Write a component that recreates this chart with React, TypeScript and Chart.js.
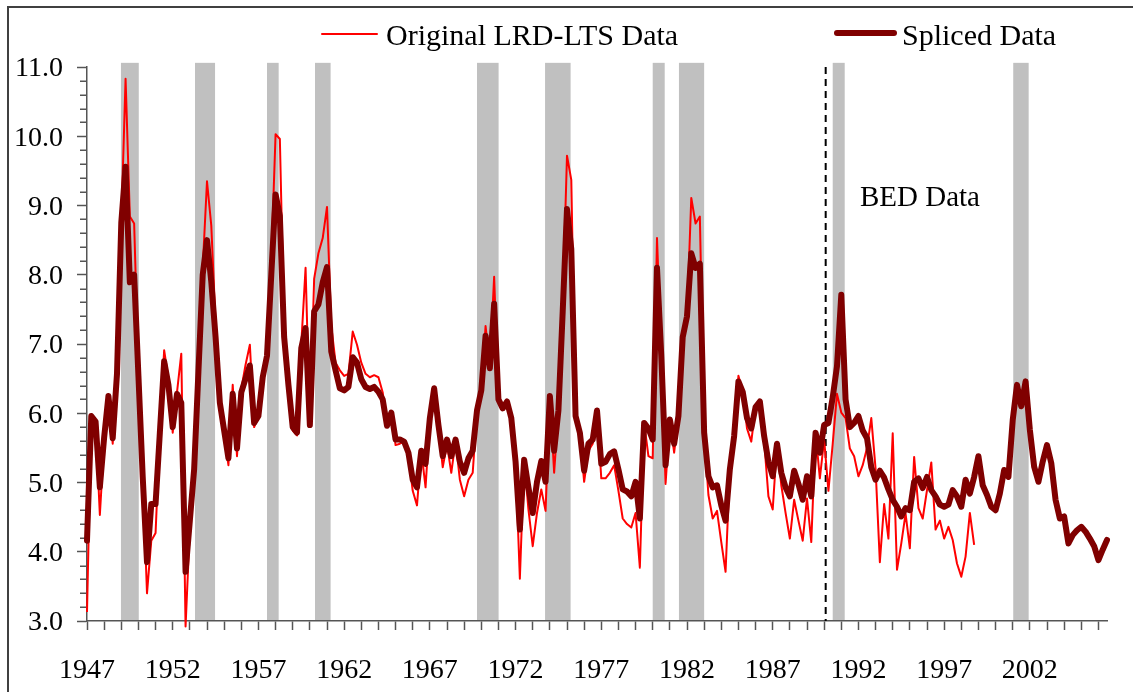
import React, { useEffect, useRef } from 'react';
import { Chart, registerables } from 'chart.js';

Chart.register(...registerables);

// First observation: 1947 Q1, quarterly observations
const START_YEAR = 1947;

// Spliced data (thick dark red), 1947Q1 - 2006Q3
const splicedData = [
  4.16, 5.96, 5.88, 4.93, 5.65, 6.25, 5.64, 6.57, 8.75, 9.56,
  7.89, 8.0, 6.54, 5.08, 3.85, 4.69, 4.69, 5.72, 6.75, 6.41,
  5.8, 6.28, 6.15, 3.71, 4.45, 5.19, 6.6, 8.0, 8.5, 7.9,
  7.1, 6.15, 5.75, 5.35, 6.28, 5.49, 6.3, 6.5, 6.69, 5.86,
  5.96, 6.52, 6.83, 8.0, 9.16, 8.85, 7.1, 6.41, 5.8, 5.72,
  6.94, 7.23, 5.83, 7.47, 7.57, 7.89, 8.11, 6.89, 6.62, 6.36,
  6.33, 6.38, 6.81, 6.73, 6.49, 6.38, 6.35, 6.38, 6.31, 6.2,
  5.82, 6.01, 5.62, 5.62, 5.59, 5.43, 5.04, 4.93, 5.46, 5.27,
  5.93, 6.36, 5.83, 5.38, 5.62, 5.38, 5.62, 5.3, 5.14, 5.35,
  5.46, 6.04, 6.33, 7.12, 6.65, 7.58, 6.2, 6.07, 6.17, 5.93,
  5.3, 4.32, 5.33, 4.93, 4.56, 5.01, 5.31, 5.01, 6.25, 5.46,
  6.04, 7.47, 8.95, 8.37, 5.96, 5.72, 5.17, 5.56, 5.62, 6.04,
  5.27, 5.3, 5.41, 5.45, 5.19, 4.9, 4.87, 4.8, 5.01, 4.48,
  5.86, 5.78, 5.62, 8.1, 6.83, 5.25, 5.91, 5.56, 5.96, 7.1,
  7.4, 8.31, 8.1, 8.16, 5.72, 5.09, 4.93, 4.96, 4.67, 4.45,
  5.19, 5.67, 6.46, 6.31, 5.93, 5.78, 6.09, 6.17, 5.67, 5.3,
  5.09, 5.56, 5.14, 4.93, 4.8, 5.17, 4.98, 4.75, 5.09, 4.8,
  5.72, 5.43, 5.83, 5.86, 6.23, 6.68, 7.71, 6.2, 5.8, 5.86,
  5.96, 5.75, 5.64, 5.22, 5.04, 5.17, 5.07, 4.9, 4.75, 4.65,
  4.51, 4.63, 4.6, 5.01, 5.06, 4.92, 5.08, 4.89, 4.8, 4.68,
  4.65, 4.68, 4.89, 4.8, 4.65, 5.04, 4.84, 5.08, 5.38, 4.96,
  4.82, 4.65, 4.6, 4.84, 5.18, 5.08, 5.9, 6.41, 6.1, 6.46,
  5.76, 5.23, 5.01, 5.3, 5.54, 5.28, 4.75, 4.48, 4.51, 4.12,
  4.24, 4.31, 4.36, 4.29, 4.19, 4.08, 3.88, 4.03, 4.17,
];

// Original LRD-LTS data (thin red), 1947Q1 - 1998Q4
const originalData = [
  3.13, 5.96, 5.88, 4.53, 5.6, 6.27, 5.56, 6.57, 8.75, 10.83,
  8.84, 8.74, 6.6, 5.1, 3.4, 4.16, 4.27, 5.72, 6.91, 6.5,
  5.72, 6.3, 6.86, 2.92, 4.35, 5.19, 6.6, 8.1, 9.35, 8.71,
  7.3, 6.2, 5.7, 5.25, 6.41, 5.38, 6.35, 6.7, 6.99, 5.8,
  5.96, 6.55, 6.85, 8.2, 10.03, 9.96, 7.2, 6.45, 5.75, 5.68,
  7.0, 8.1, 5.83, 7.94, 8.31, 8.53, 8.98, 7.26, 6.73, 6.62,
  6.54, 6.57, 7.18, 6.99, 6.73, 6.57, 6.52, 6.55, 6.52, 6.3,
  5.85, 6.01, 5.54, 5.56, 5.59, 5.4, 4.88, 4.67, 5.46, 4.93,
  5.93, 6.36, 5.8, 5.22, 5.55, 5.14, 5.6, 5.04, 4.8, 5.04,
  5.14, 6.04, 6.3, 7.26, 6.68, 7.97, 6.2, 6.07, 6.17, 5.93,
  5.3, 3.61, 5.33, 4.61, 4.08, 4.56, 4.9, 4.59, 6.25, 5.14,
  6.04, 7.6, 9.72, 9.37, 5.96, 5.72, 5.01, 5.46, 5.56, 6.04,
  5.06, 5.06, 5.14, 5.25, 4.88, 4.48, 4.4, 4.35, 4.56, 3.77,
  5.86, 5.38, 5.35, 8.53, 6.83, 4.98, 5.91, 5.43, 5.96, 7.1,
  7.4, 9.11, 8.74, 8.84, 5.72, 4.82, 4.48, 4.59, 4.14, 3.71,
  5.19, 5.67, 6.54, 6.31, 5.78, 5.59, 6.09, 6.17, 5.6, 4.8,
  4.61, 5.56, 4.96, 4.56, 4.19, 4.75, 4.45, 4.16, 4.77, 4.14,
  5.72, 5.06, 5.62, 4.88, 5.56, 6.28, 6.01, 5.93, 5.49, 5.38,
  5.09, 5.25, 5.5, 5.93, 5.2, 3.85, 4.69, 4.19, 5.71, 3.74,
  4.12, 4.55, 4.05, 5.37, 4.63, 4.48, 4.89, 5.29, 4.32, 4.45,
  4.19, 4.36, 4.17, 3.83, 3.64, 3.93, 4.56, 4.1,
];

// Recession shading (decimal years)
const recessionStarts = [1948.98, 1953.3, 1957.5, 1960.3, 1969.75, 1973.72, 1980.0, 1981.53, 1990.5, 2001.03];
const recessionEnds = [1950.02, 1954.47, 1958.18, 1961.21, 1971.01, 1975.21, 1980.7, 1983.0, 1991.2, 2001.93];

// Start of BED data (dashed line)
const bedStart = 1990.09;
const bedLabel = 'BED Data';

// Axis ticks
const xTickYears = [
  1947, 1948, 1949, 1950, 1951, 1952, 1953, 1954, 1955, 1956,
  1957, 1958, 1959, 1960, 1961, 1962, 1963, 1964, 1965, 1966,
  1967, 1968, 1969, 1970, 1971, 1972, 1973, 1974, 1975, 1976,
  1977, 1978, 1979, 1980, 1981, 1982, 1983, 1984, 1985, 1986,
  1987, 1988, 1989, 1990, 1991, 1992, 1993, 1994, 1995, 1996,
  1997, 1998, 1999, 2000, 2001, 2002, 2003, 2004, 2005, 2006,
];
const xLabelYears = [1947, 1952, 1957, 1962, 1967, 1972, 1977, 1982, 1987, 1992, 1997, 2002];
const yMajorTicks = [3, 4, 5, 6, 7, 8, 9, 10, 11];
const yMinorTicks = [
  3.2, 3.4, 3.6, 3.8, 4.2, 4.4, 4.6, 4.8, 5.2, 5.4, 5.6, 5.8,
  6.2, 6.4, 6.6, 6.8, 7.2, 7.4, 7.6, 7.8, 8.2, 8.4, 8.6, 8.8,
  9.2, 9.4, 9.6, 9.8, 10.2, 10.4, 10.6, 10.8,
];

const SERIF = "'Liberation Serif', 'Times New Roman', serif";

const toPoints = (arr: number[]) => arr.map((v, i) => ({ x: START_YEAR + i / 4, y: v }));

const decorPlugin = {
  id: 'decor',
  beforeDraw(chart: any) {
    const { ctx, scales } = chart;
    const x = scales.x;
    const y = scales.y;
    ctx.save();
    ctx.fillStyle = '#c0c0c0';
    const top = y.getPixelForValue(11.06);
    const bottom = y.getPixelForValue(3);
    recessionStarts.forEach((s, k) => {
      const x0 = x.getPixelForValue(s);
      const x1 = x.getPixelForValue(recessionEnds[k]);
      ctx.fillRect(x0, top, x1 - x0, bottom - top);
    });
    ctx.restore();
  },
  beforeDatasetsDraw(chart: any) {
    const { ctx, scales } = chart;
    const x = scales.x;
    const y = scales.y;
    ctx.save();
    // minor y ticks
    ctx.strokeStyle = '#555';
    ctx.lineWidth = 1.5;
    const left = chart.chartArea.left;
    yMinorTicks.forEach((v) => {
      const py = Math.round(y.getPixelForValue(v)) + 0.25;
      ctx.beginPath();
      ctx.moveTo(left - 7, py);
      ctx.lineTo(left, py);
      ctx.stroke();
    });
    // dashed BED line
    const dx = x.getPixelForValue(bedStart);
    ctx.strokeStyle = '#000';
    ctx.lineWidth = 2;
    ctx.setLineDash([7, 5]);
    ctx.beginPath();
    ctx.moveTo(dx, y.getPixelForValue(11));
    ctx.lineTo(dx, y.getPixelForValue(3));
    ctx.stroke();
    ctx.restore();
  },
  afterDraw(chart: any) {
    const { ctx, scales } = chart;
    const x = scales.x;
    const y = scales.y;
    const ds = chart.data.datasets;
    ctx.save();
    // BED label
    ctx.fillStyle = '#000';
    ctx.font = `29px ${SERIF}`;
    ctx.textAlign = 'left';
    ctx.textBaseline = 'alphabetic';
    ctx.fillText(bedLabel, x.getPixelForValue(1992.09), y.getPixelForValue(8.99));
    // Legend
    const items = [
      { ds: ds[0], x0: 322, x1: 377, ly: 34, tx: 386 },
      { ds: ds[1], x0: 837, x1: 894, ly: 33, tx: 902 },
    ];
    ctx.font = `30px ${SERIF}`;
    items.forEach((it) => {
      ctx.strokeStyle = it.ds.borderColor;
      ctx.lineWidth = it.ds.borderWidth;
      ctx.lineCap = 'round';
      ctx.beginPath();
      ctx.moveTo(it.x0, it.ly);
      ctx.lineTo(it.x1, it.ly);
      ctx.stroke();
      ctx.fillStyle = '#000';
      ctx.fillText(it.ds.label, it.tx, 45);
    });
    ctx.restore();
  },
};

export default function App() {
  const canvasRef = useRef<HTMLCanvasElement | null>(null);

  useEffect(() => {
    if (!canvasRef.current) return;
    const chart = new Chart(canvasRef.current, {
      type: 'line',
      data: {
        datasets: [
          {
            label: 'Original LRD-LTS Data',
            data: toPoints(originalData),
            borderColor: '#ff0000',
            borderWidth: 2,
            pointRadius: 0,
            tension: 0,
            fill: false,
            clip: false,
            order: 1,
            borderJoinStyle: 'round',
          },
          {
            label: 'Spliced Data',
            data: toPoints(splicedData),
            borderColor: '#800000',
            borderWidth: 6,
            pointRadius: 0,
            tension: 0,
            fill: false,
            clip: false,
            order: 0,
            borderJoinStyle: 'round',
            borderCapStyle: 'round',
          },
        ] as any,
      },
      options: {
        animation: false,
        responsive: false,
        devicePixelRatio: 1,
        events: [],
        layout: { padding: { left: 0, top: 67, right: 26, bottom: 0 } },
        plugins: {
          legend: { display: false },
          tooltip: { enabled: false },
          title: { display: false },
        },
        scales: {
          x: {
            type: 'linear',
            min: START_YEAR,
            max: START_YEAR + (splicedData.length - 1) / 4,
            afterBuildTicks: (scale: any) => {
              scale.ticks = xTickYears.map((v) => ({ value: v }));
            },
            afterFit: (scale: any) => {
              scale.height = 71;
            },
            grid: {
              display: true,
              drawOnChartArea: false,
              drawTicks: true,
              tickLength: 9,
              tickColor: '#555',
              tickWidth: 1.5,
            },
            border: { display: true, color: '#555', width: 1.5 },
            ticks: {
              autoSkip: false,
              maxRotation: 0,
              minRotation: 0,
              padding: 24,
              color: '#000',
              font: { family: SERIF, size: 28 },
              callback: (value: any) => (xLabelYears.includes(Number(value)) ? String(value) : ''),
            },
          },
          y: {
            type: 'linear',
            min: 3,
            max: 11,
            afterBuildTicks: (scale: any) => {
              scale.ticks = yMajorTicks.map((v) => ({ value: v }));
            },
            afterFit: (scale: any) => {
              scale.width = 87;
            },
            grid: {
              display: true,
              drawOnChartArea: false,
              drawTicks: true,
              tickLength: 10,
              tickColor: '#555',
              tickWidth: 1.5,
            },
            border: { display: true, color: '#555', width: 1.5 },
            ticks: {
              padding: 14,
              labelOffset: 2,
              color: '#000',
              font: { family: SERIF, size: 28 },
              callback: (value: any) => Number(value).toFixed(1),
            },
          },
        },
      } as any,
      plugins: [decorPlugin],
    });
    return () => chart.destroy();
  }, []);

  return (
    <div
      style={{
        position: 'fixed',
        left: 0,
        top: 0,
        width: 1133,
        height: 692,
        overflow: 'hidden',
        background: '#fff',
      }}
    >
      <div
        style={{
          position: 'absolute',
          left: 7,
          top: 6,
          width: 1300,
          height: 900,
          borderTop: '2px solid #404040',
          borderLeft: '2px solid #404040',
        }}
      />
      <canvas
        ref={canvasRef}
        width={1133}
        height={692}
        style={{ position: 'absolute', left: 0, top: 0, width: 1133, height: 692 }}
      />
    </div>
  );
}
